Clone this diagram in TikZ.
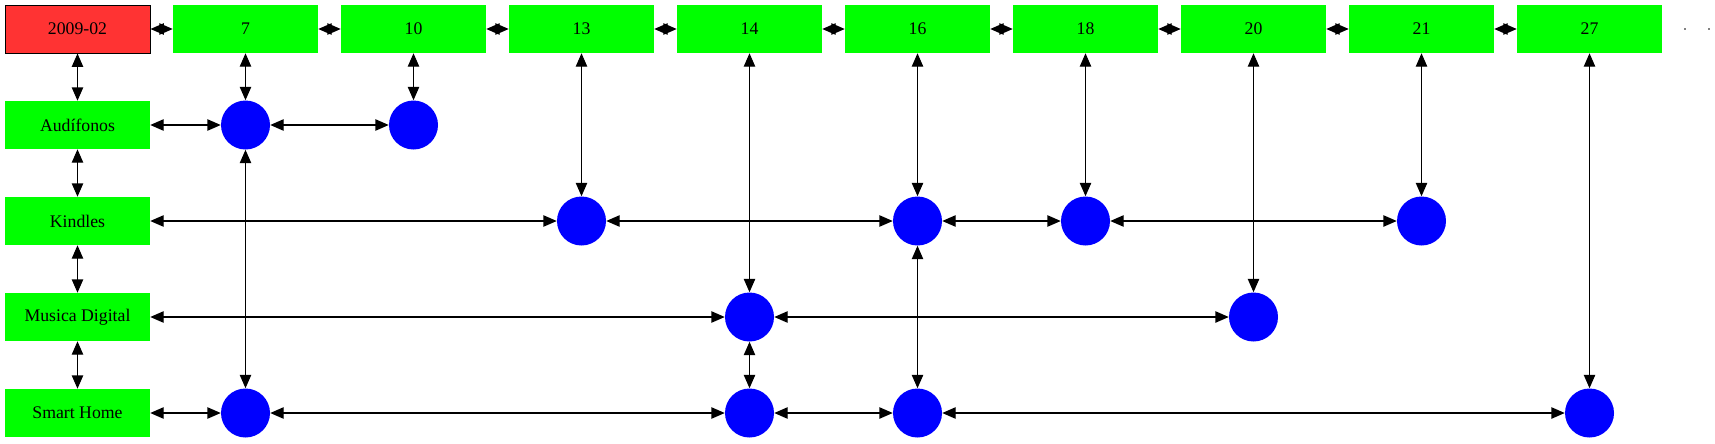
\documentclass[tikz,border=0pt]{standalone}
\usepackage{fontspec}
\setmainfont{Liberation Serif}
\usetikzlibrary{arrows.meta}
\definecolor{gboxc}{HTML}{00FF00}
\definecolor{rboxc}{HTML}{FF3333}
\definecolor{bdot}{HTML}{0000FF}
\tikzset{
  gbox/.style={rectangle, fill=gboxc, draw=none, minimum width=108.75pt, minimum height=36pt, inner sep=0pt, font=\fontsize{13.3pt}{15pt}\selectfont},
  rbox/.style={gbox, fill=rboxc, draw=black, line width=0.75pt},
  bdisc/.style={circle, fill=bdot, draw=none, minimum size=36.75pt, inner sep=0pt},
  tinydot/.style={circle, fill=black, draw=none, minimum size=1.2pt, inner sep=0pt},
  link/.style={line width=0.9pt, {Triangle[length=10pt,width=8.5pt]}-{Triangle[length=10pt,width=8.5pt]}}
}
\begin{document}
\begin{tikzpicture}[x=0.75pt,y=-0.75pt]
\useasboundingbox (0,0) rectangle (1715,443);
% top row
\node[rbox] (d) at (77.5,29) {2009-02};
\node[gbox] (t7) at (245.5,29) {7};
\node[gbox] (t10) at (413.5,29) {10};
\node[gbox] (t13) at (581.5,29) {13};
\node[gbox] (t14) at (749.5,29) {14};
\node[gbox] (t16) at (917.5,29) {16};
\node[gbox] (t18) at (1085.5,29) {18};
\node[gbox] (t20) at (1253.5,29) {20};
\node[gbox] (t21) at (1421.5,29) {21};
\node[gbox] (t27) at (1589.5,29) {27};
\node[tinydot] (p1) at (1685,29) {};
\node[tinydot] (p2) at (1709,29) {};
% left column
\node[gbox] (aud) at (77.5,125) {Audífonos};
\node[gbox] (kin) at (77.5,221) {Kindles};
\node[gbox] (mus) at (77.5,317) {Musica Digital};
\node[gbox] (sm) at (77.5,413) {Smart Home};
% discs
\node[bdisc] (a7) at (245.5,125) {};
\node[bdisc] (a10) at (413.5,125) {};
\node[bdisc] (k13) at (581.5,221) {};
\node[bdisc] (k16) at (917.5,221) {};
\node[bdisc] (k18) at (1085.5,221) {};
\node[bdisc] (k21) at (1421.5,221) {};
\node[bdisc] (m14) at (749.5,317) {};
\node[bdisc] (m20) at (1253.5,317) {};
\node[bdisc] (s7) at (245.5,413) {};
\node[bdisc] (s14) at (749.5,413) {};
\node[bdisc] (s16) at (917.5,413) {};
\node[bdisc] (s27) at (1589.5,413) {};
% top chain
\draw[link] (d) -- (t7);
\draw[link] (t7) -- (t10);
\draw[link] (t10) -- (t13);
\draw[link] (t13) -- (t14);
\draw[link] (t14) -- (t16);
\draw[link] (t16) -- (t18);
\draw[link] (t18) -- (t20);
\draw[link] (t20) -- (t21);
\draw[link] (t21) -- (t27);
% left chain
\draw[link] (d) -- (aud);
\draw[link] (aud) -- (kin);
\draw[link] (kin) -- (mus);
\draw[link] (mus) -- (sm);
% rows
\draw[link] (aud) -- (a7);
\draw[link] (a7) -- (a10);
\draw[link] (kin) -- (k13);
\draw[link] (k13) -- (k16);
\draw[link] (k16) -- (k18);
\draw[link] (k18) -- (k21);
\draw[link] (mus) -- (m14);
\draw[link] (m14) -- (m20);
\draw[link] (sm) -- (s7);
\draw[link] (s7) -- (s14);
\draw[link] (s14) -- (s16);
\draw[link] (s16) -- (s27);
% columns
\draw[link] (t7) -- (a7);
\draw[link] (a7) -- (s7);
\draw[link] (t10) -- (a10);
\draw[link] (t13) -- (k13);
\draw[link] (t14) -- (m14);
\draw[link] (m14) -- (s14);
\draw[link] (t16) -- (k16);
\draw[link] (k16) -- (s16);
\draw[link] (t18) -- (k18);
\draw[link] (t20) -- (m20);
\draw[link] (t21) -- (k21);
\draw[link] (t27) -- (s27);
\end{tikzpicture}
\end{document}
